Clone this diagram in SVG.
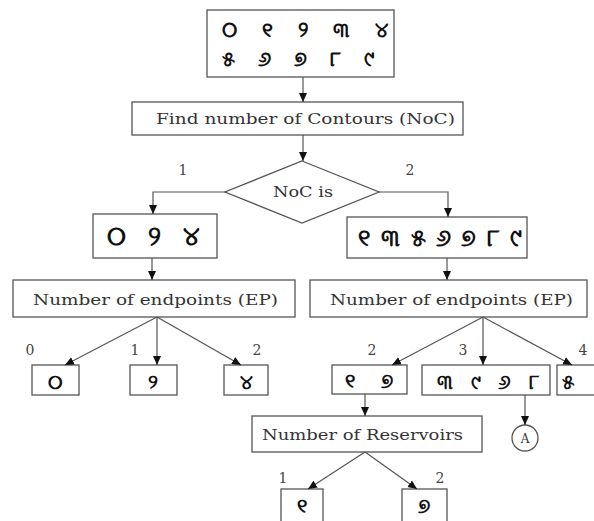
<svg xmlns="http://www.w3.org/2000/svg" width="594" height="521" viewBox="0 0 594 521">
<defs>
<marker id="arr" markerUnits="userSpaceOnUse" markerWidth="10" markerHeight="10" viewBox="0 0 10 10" refX="9" refY="5" orient="auto">
<path d="M0,1 L9,5 L0,9 Z" fill="#111"/>
</marker>
<style>
.box{fill:#fff;stroke:#555;stroke-width:1.3}
.lbl{font-family:"DejaVu Serif","Liberation Serif",serif;font-size:14px;fill:#333}
.num{font-family:"DejaVu Serif","Liberation Serif",serif;font-size:14px;fill:#444}
.gl{font-family:"Noto Sans","DejaVu Sans",sans-serif;font-weight:bold;fill:#111}
.ln{fill:none;stroke:#555;stroke-width:1.2}
</style>
</defs>
<rect width="594" height="521" fill="#fff"/>
<g id="n-digits">
<rect class="box" x="207" y="10" width="187" height="67"/>
<text class="gl" x="222" y="37" font-size="21" textLength="166" lengthAdjust="spacing">୦୧୨୩୪</text>
<text class="gl" x="222" y="66" font-size="21" textLength="152" lengthAdjust="spacing">୫୬୭୮୯</text>
</g>
<g id="n-find">
<rect class="box" x="132" y="102" width="331" height="33"/>
<text class="lbl" x="156" y="124" textLength="299" lengthAdjust="spacingAndGlyphs">Find number of Contours (NoC)</text>
</g>
<g id="n-noc">
<polygon class="box" points="302,161 379,192 302,223 225,192"/>
<text class="lbl" x="303" y="197" text-anchor="middle" textLength="60" lengthAdjust="spacingAndGlyphs">NoC is</text>
</g>
<g id="n-c1">
<rect class="box" x="93" y="214" width="124" height="44"/>
<text class="gl" x="107" y="245" font-size="26" textLength="93" lengthAdjust="spacing">୦୨୪</text>
</g>
<g id="n-c2">
<rect class="box" x="347" y="217" width="180" height="41"/>
<text class="gl" x="358" y="246" font-size="24" textLength="164" lengthAdjust="spacing">୧୩୫୬୭୮୯</text>
</g>
<g id="n-ep1">
<rect class="box" x="13" y="280" width="282" height="37"/>
<text class="lbl" x="33" y="305" textLength="245" lengthAdjust="spacingAndGlyphs">Number of endpoints (EP)</text>
</g>
<g id="n-ep2">
<rect class="box" x="310" y="280" width="277" height="37"/>
<text class="lbl" x="330" y="305" textLength="243" lengthAdjust="spacingAndGlyphs">Number of endpoints (EP)</text>
</g>
<g id="n-d0">
<rect class="box" x="32" y="365" width="47" height="30"/>
<text class="gl" x="55" y="389" font-size="20" text-anchor="middle">୦</text>
</g>
<g id="n-d2">
<rect class="box" x="130" y="365" width="47" height="30"/>
<text class="gl" x="153" y="389" font-size="20" text-anchor="middle">୨</text>
</g>
<g id="n-d4">
<rect class="box" x="224" y="365" width="44" height="30"/>
<text class="gl" x="246" y="389" font-size="20" text-anchor="middle">୪</text>
</g>
<g id="n-e2">
<rect class="box" x="332" y="365" width="75" height="29"/>
<text class="gl" x="345" y="388" font-size="20" textLength="48" lengthAdjust="spacing">୧୭</text>
</g>
<g id="n-e3">
<rect class="box" x="422" y="365" width="128" height="30"/>
<text class="gl" x="437" y="389" font-size="20" textLength="102" lengthAdjust="spacing">୩୯୬୮</text>
</g>
<g id="n-e4">
<rect class="box" x="557" y="365" width="45" height="30"/>
<text class="gl" x="562" y="389" font-size="20">୫</text>
</g>
<g id="n-res">
<rect class="box" x="252" y="416" width="230" height="36"/>
<text class="lbl" x="262" y="440" textLength="201" lengthAdjust="spacingAndGlyphs">Number of Reservoirs</text>
</g>
<g id="n-a">
<circle class="box" cx="525" cy="438" r="13"/>
<text class="lbl" x="525" y="443" text-anchor="middle" style="font-size:12px">A</text>
</g>
<g id="n-r1">
<rect class="box" x="281" y="489" width="42" height="40"/>
<text class="gl" x="302" y="513" font-size="20" text-anchor="middle">୧</text>
</g>
<g id="n-r2">
<rect class="box" x="402" y="489" width="45" height="40"/>
<text class="gl" x="424" y="513" font-size="20" text-anchor="middle">୭</text>
</g>
<g id="labels">
<text class="num" x="183" y="175" text-anchor="middle">1</text>
<text class="num" x="410" y="175" text-anchor="middle">2</text>
<text class="num" x="30" y="355" text-anchor="middle">0</text>
<text class="num" x="135" y="355" text-anchor="middle">1</text>
<text class="num" x="257" y="355" text-anchor="middle">2</text>
<text class="num" x="372" y="355" text-anchor="middle">2</text>
<text class="num" x="463" y="355" text-anchor="middle">3</text>
<text class="num" x="583" y="355" text-anchor="middle">4</text>
<text class="num" x="283" y="483" text-anchor="middle">1</text>
<text class="num" x="440" y="483" text-anchor="middle">2</text>
</g>
<g id="connectors">
<line class="ln" x1="303" y1="77" x2="303" y2="102" marker-end="url(#arr)"/>
<line class="ln" x1="303" y1="135" x2="303" y2="161" marker-end="url(#arr)"/>
<polyline class="ln" points="225,192 153,192 153,214" marker-end="url(#arr)"/>
<polyline class="ln" points="379,192 448,192 448,217" marker-end="url(#arr)"/>
<line class="ln" x1="152" y1="258" x2="152" y2="280" marker-end="url(#arr)"/>
<line class="ln" x1="447" y1="258" x2="447" y2="280" marker-end="url(#arr)"/>
<line class="ln" x1="157" y1="317" x2="65" y2="365" marker-end="url(#arr)"/>
<line class="ln" x1="157" y1="317" x2="157" y2="365" marker-end="url(#arr)"/>
<line class="ln" x1="157" y1="317" x2="241" y2="365" marker-end="url(#arr)"/>
<line class="ln" x1="483" y1="317" x2="392" y2="365" marker-end="url(#arr)"/>
<line class="ln" x1="483" y1="317" x2="483" y2="365" marker-end="url(#arr)"/>
<line class="ln" x1="483" y1="317" x2="572" y2="365" marker-end="url(#arr)"/>
<line class="ln" x1="365" y1="394" x2="365" y2="416" marker-end="url(#arr)"/>
<line class="ln" x1="525" y1="395" x2="525" y2="425" marker-end="url(#arr)"/>
<line class="ln" x1="365" y1="452" x2="308" y2="489" marker-end="url(#arr)"/>
<line class="ln" x1="365" y1="452" x2="417" y2="489" marker-end="url(#arr)"/>
</g>
</svg>
